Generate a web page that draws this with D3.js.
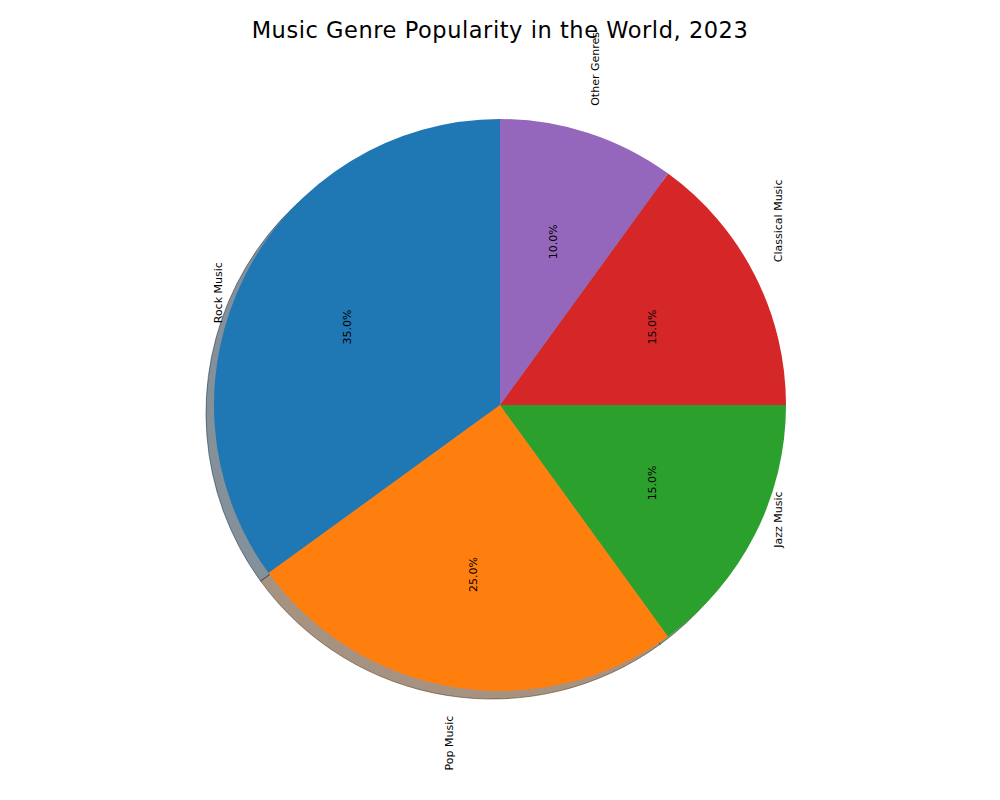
<!DOCTYPE html>
<html>
<head>
<meta charset="utf-8">
<script src="https://cdn.jsdelivr.net/npm/d3@7"></script>
<style>
  html, body { margin: 0; padding: 0; background: #ffffff; }
  svg { display: block; }
  text { font-family: "DejaVu Sans", sans-serif; fill: #000; }
</style>
</head>
<body>
<svg id="chart" width="1000" height="800"></svg>
<script>
const genres = ["Rock Music", "Pop Music", "Jazz Music", "Classical Music", "Other Genres"];
const shares = [35, 25, 15, 15, 10];
const colors = ["#1f77b4", "#ff7f0e", "#2ca02c", "#d62728", "#9467bd"];
const title = "Music Genre Popularity in the World, 2023";

const W = 1000, H = 800;
const cx = 500, cy = 405, R = 286;
const shadowDx = -8, shadowDy = 8;

const svg = d3.select("#chart");

const data = genres.map((g, i) => ({ genre: g, value: shares[i], color: colors[i] }));
const total = d3.sum(shares);

const pie = d3.pie().value(d => d.value).sort(null).startAngle(0).endAngle(-2 * Math.PI);
const arcs = pie(data);

const arc = d3.arc().innerRadius(0).outerRadius(R);
const labelArc = d3.arc().innerRadius(R * 1.1).outerRadius(R * 1.1);
const pctArc = d3.arc().innerRadius(R * 0.6).outerRadius(R * 0.6);

function shade(c) { const r = d3.rgb(c); return d3.rgb(r.r * 0.3, r.g * 0.3, r.b * 0.3).toString(); }

// shadows
const shadowG = svg.append("g").attr("transform", `translate(${cx + shadowDx},${cy + shadowDy})`);
shadowG.selectAll("path").data(arcs).join("path")
  .attr("d", arc)
  .attr("fill", d => shade(d.data.color))
  .attr("fill-opacity", 0.5)
  .attr("stroke", d => shade(d.data.color))
  .attr("stroke-opacity", 0.5)
  .attr("stroke-width", 1);

// wedges
const g = svg.append("g").attr("transform", `translate(${cx},${cy})`);
g.selectAll("path.wedge").data(arcs).join("path")
  .attr("class", "wedge")
  .attr("d", arc)
  .attr("fill", d => d.data.color);

// outer labels
g.selectAll("text.lbl").data(arcs).join("text")
  .attr("class", "lbl")
  .attr("transform", d => { const [x, y] = labelArc.centroid(d); return `translate(${x - 1.5},${y}) rotate(-90)`; })
  .attr("text-anchor", d => labelArc.centroid(d)[0] < 0 ? "end" : "start")
  .attr("dominant-baseline", "central")
  .style("font-size", "11px")
  .text(d => d.data.genre);

// percentage labels
g.selectAll("text.pct").data(arcs).join("text")
  .attr("class", "pct")
  .attr("transform", d => { const [x, y] = pctArc.centroid(d); return `translate(${x},${y}) rotate(-90)`; })
  .attr("text-anchor", "middle")
  .attr("dominant-baseline", "central")
  .style("font-size", "11px")
  .text(d => (d.data.value / total * 100).toFixed(1) + "%");

// title
svg.append("text")
  .attr("x", W / 2)
  .attr("y", 38)
  .attr("text-anchor", "middle")
  .style("font-size", "22.5px")
  .style("letter-spacing", "0.55px")
  .text(title);
</script>
</body>
</html>
